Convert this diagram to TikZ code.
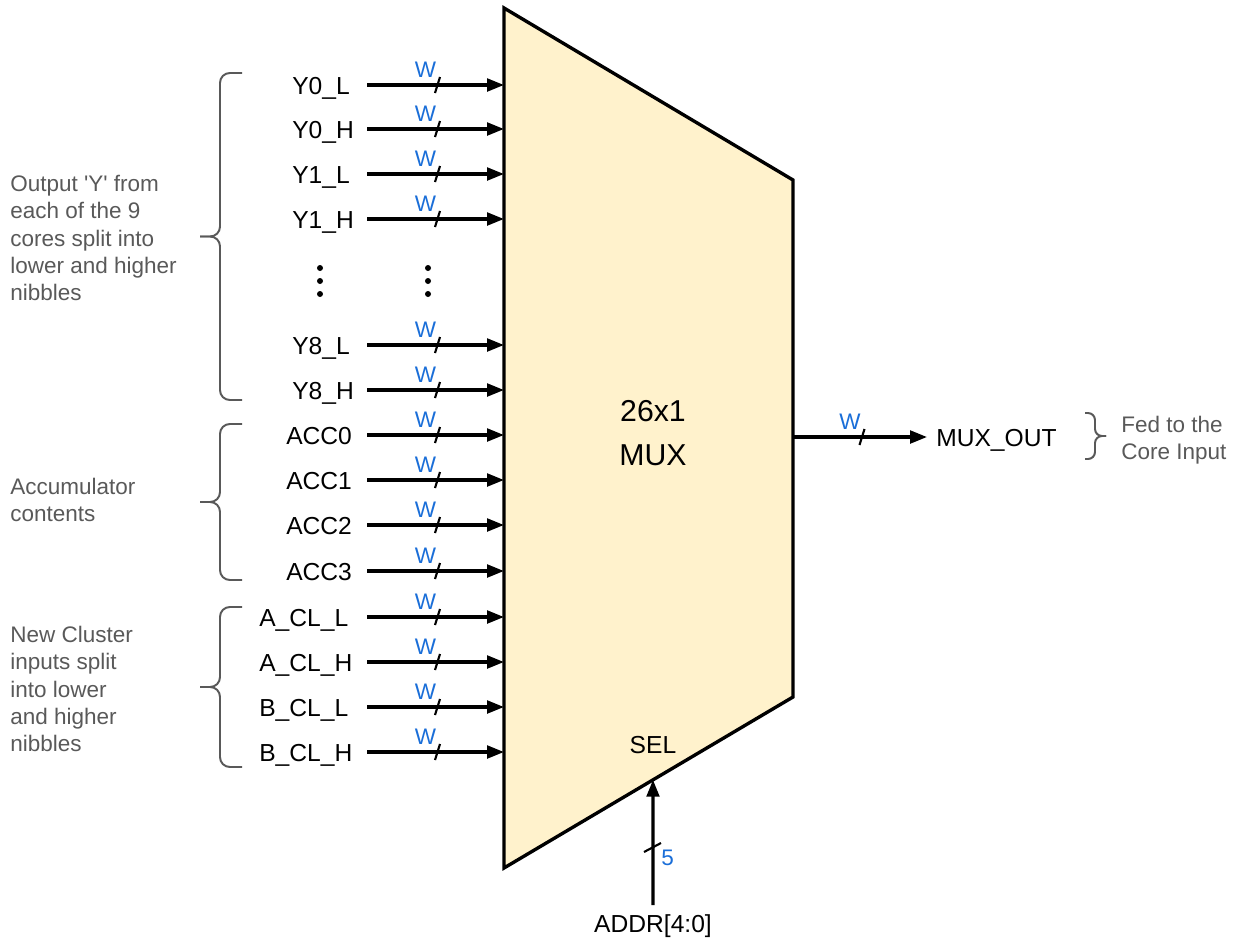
\documentclass[tikz,border=0pt]{standalone}
\usepackage{fontspec}
\setmainfont{Liberation Sans}
\setsansfont{Liberation Sans}
\usetikzlibrary{positioning,arrows.meta,calc}
\definecolor{muxfill}{HTML}{FFF2CC}
\definecolor{wblue}{HTML}{1A6ED8}
\definecolor{notegray}{HTML}{595959}

\begin{document}
\begin{tikzpicture}[x=0.025cm, y=-0.025cm, font=\sffamily\fontsize{17.5}{21}\selectfont, >={Triangle[length=12pt,width=9pt]},
  bus/.style={->, line width=2.2pt},
  tick/.style={line width=1.5pt},
  wlbl/.style={text=wblue, inner sep=0pt, font=\sffamily\fontsize{16}{18}\selectfont},
  sig/.style={anchor=base west, inner sep=0pt},
  note/.style={text=notegray, align=left, anchor=west, inner sep=0pt, font=\sffamily\fontsize{16}{19.4}\selectfont},
  curly/.style={draw=notegray, line width=1.4pt, rounded corners=7pt}]
  \useasboundingbox (0,0) rectangle (1239,943);
  \def\xS{367} \def\xM{504}
  \coordinate (tl) at (\xM,8);
  \coordinate (tr) at (793,180);
  \coordinate (br) at (793,697);
  \coordinate (bl) at (\xM,868);
  \draw[line width=2.4pt, fill=muxfill] (tl) -- (tr) -- (br) -- (bl) -- cycle;
  \node[align=center, inner sep=0pt, font=\sffamily\fontsize{21.5}{31.5}\selectfont] (mux) at (653,433) {26x1\\MUX};
  \node[inner sep=0pt] (sel) at (653,745) {SEL};
  \foreach \y/\x/\name/\txt in {85/292/yzl/Y0\_L, 129/292/yzh/Y0\_H, 174/292/yol/Y1\_L, 219/292/yoh/Y1\_H,
      345/292/yel/Y8\_L, 390/292/yeh/Y8\_H, 435/286/acca/ACC0, 480/286/accb/ACC1, 525/286/accc/ACC2, 571/286/accd/ACC3,
      617/259/acll/A\_CL\_L, 662/259/aclh/A\_CL\_H, 707/259/bcll/B\_CL\_L, 752/259/bclh/B\_CL\_H}{
    \node[sig] (\name) at (\x,\y+9) {\txt};
    \coordinate (\name s) at (\xS,\y);
    \coordinate (\name in) at (\xM,\y);
    \draw[bus] (\name s) -- (\name in);
    \draw[tick] ($(\name s)!0.5!(\name in)+(-0.5,8)$) -- ++(5,-16);
    \node[wlbl] at ($(\name s)!0.5!(\name in)+(-10,-15)$) {W};
  }
  \foreach \x in {320,428}
    \foreach \y in {268,281,294}
      \fill (\x,\y) circle (3);
  \coordinate (outs) at (793,437);
  \coordinate (oute) at (927,437);
  \node[anchor=base west, inner sep=0pt] (muxout) at (936,446) {MUX\_OUT};
  \draw[bus] (outs) -- (oute);
  \draw[tick] ($(outs)!0.5!(oute)+(-0.5,8)$) -- ++(5,-16);
  \node[wlbl] at ($(outs)!0.5!(oute)+(-10,-15)$) {W};
  \node[inner sep=0pt] (addr) at (653,926) {ADDR[4:0]};
  \coordinate (addrs) at (653,905);
  \coordinate (addrin) at ($(bl)!{(653-504)/289}!(br)$);
  \draw[bus] (addrs) -- (addrin);
  \draw[tick] (644,852) -- (661,843);
  \node[wlbl, anchor=west] (bits) at (661,858) {5};
  \foreach \top/\bot in {73/400, 424/580, 607/767}{
    \draw[curly] (242,\top) -- (220,\top) -- (220,{(\top+\bot)/2}) -- (200,{(\top+\bot)/2});
    \draw[curly] (200,{(\top+\bot)/2}) -- (220,{(\top+\bot)/2}) -- (220,\bot) -- (242,\bot);
  }
  \draw[curly, rounded corners=5pt] (1085,413) -- (1095,413) -- (1095,436) -- (1106,436);
  \draw[curly, rounded corners=5pt] (1106,436) -- (1095,436) -- (1095,459) -- (1085,459);
  \node[note] (ynote) at (10,238) {Output \textquotesingle Y\textquotesingle{} from\\each of the 9\\cores split into\\lower and higher\\nibbles};
  \node[note] (accnote) at (10,500) {Accumulator\\contents};
  \node[note] (clnote) at (10,689) {New Cluster\\inputs split\\into lower\\and higher\\nibbles};
  \node[note] (outnote) at (1121,440) {Fed to the\\Core Input};
\end{tikzpicture}
\end{document}
